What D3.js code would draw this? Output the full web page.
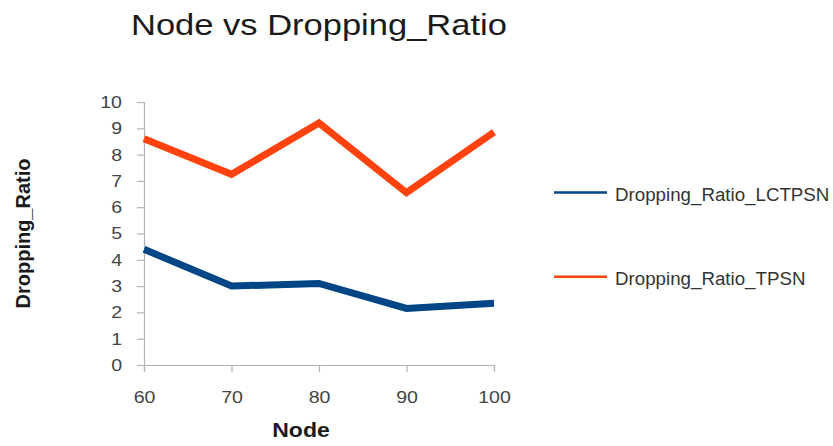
<!DOCTYPE html>
<html>
<head>
<meta charset="utf-8">
<script src="https://cdn.jsdelivr.net/npm/d3@7"></script>
<style>
  html, body { margin: 0; padding: 0; background: #fff; }
  svg { display: block; font-family: "Liberation Sans", Arial, sans-serif; }
</style>
</head>
<body>
<svg id="chart" width="833" height="446"></svg>
<script>
const nodes = [60, 70, 80, 90, 100];
const lctpsn = [4.4, 3.0, 3.1, 2.15, 2.35];
const tpsn = [8.6, 7.25, 9.2, 6.55, 8.85];
const yTicks = [0, 1, 2, 3, 4, 5, 6, 7, 8, 9, 10];
const seriesNames = ["Dropping_Ratio_LCTPSN", "Dropping_Ratio_TPSN"];
const seriesColors = ["#004586", "#ff420e"];

const svg = d3.select("#chart");
const plotLeft = 144, plotRight = 494, plotTop = 102, plotBottom = 365;
const widen = 1.15; // horizontal stretch applied to text glyphs

// Stretch a text element horizontally around its anchor
function stretch(sel, k) {
  sel.each(function () {
    const w = this.getComputedTextLength();
    d3.select(this).attr("textLength", w * k).attr("lengthAdjust", "spacingAndGlyphs");
  });
}

const x = d3.scaleLinear().domain([60, 100]).range([plotLeft, plotRight]);
const y = d3.scaleLinear().domain([0, 10]).range([plotBottom, plotTop]);

// Axes
const yAxis = svg.append("g")
  .attr("transform", `translate(${plotLeft},0)`)
  .call(d3.axisLeft(y).tickValues(yTicks).tickSize(7).tickPadding(15));
const xAxis = svg.append("g")
  .attr("transform", `translate(0,${plotBottom})`)
  .call(d3.axisBottom(x).tickValues(nodes).tickSize(7).tickPadding(19));
[yAxis, xAxis].forEach(g => {
  g.select(".domain").attr("stroke", "#b3b3b3").attr("stroke-width", 1.2);
  g.selectAll(".tick line").attr("stroke", "#b3b3b3").attr("stroke-width", 1.2);
  g.selectAll(".tick text").attr("fill", "#444").style("font-size", "17px")
    .style("font-family", "'Liberation Sans', Arial, sans-serif")
    .call(stretch, widen);
});

// Series lines
const line = d3.line().x((d, i) => x(nodes[i])).y(d => y(d));
[lctpsn, tpsn].forEach((vals, i) => {
  svg.append("path")
    .datum(vals)
    .attr("d", line)
    .attr("fill", "none")
    .attr("stroke", seriesColors[i])
    .attr("stroke-width", 7)
    .attr("stroke-linejoin", "miter");
});

// Title
svg.append("text")
  .attr("x", 131).attr("y", 34.5)
  .attr("fill", "#1a1a1a")
  .style("font-size", "30px")
  .text("Node vs Dropping_Ratio")
  .call(stretch, widen);

// Axis titles
svg.append("text")
  .attr("x", 301).attr("y", 437)
  .attr("text-anchor", "middle")
  .attr("fill", "#1a1a1a")
  .style("font-size", "20px").style("font-weight", "bold")
  .text("Node")
  .call(stretch, widen);
svg.append("text")
  .attr("transform", "translate(29.5,233.5) rotate(-90)")
  .attr("text-anchor", "middle")
  .attr("fill", "#1a1a1a")
  .style("font-size", "20px").style("font-weight", "bold")
  .text("Dropping_Ratio")
  .call(stretch, 1.0);

// Legend
const legendY = [192.5, 276.7];
seriesNames.forEach((name, i) => {
  svg.append("line")
    .attr("x1", 554).attr("x2", 607)
    .attr("y1", legendY[i]).attr("y2", legendY[i])
    .attr("stroke", seriesColors[i]).attr("stroke-width", 2.5);
  svg.append("text")
    .attr("x", 615).attr("y", legendY[i] + 8.7)
    .attr("fill", "#333")
    .style("font-size", "18px")
    .text(name)
    .call(stretch, 1.04);
});
</script>
</body>
</html>
